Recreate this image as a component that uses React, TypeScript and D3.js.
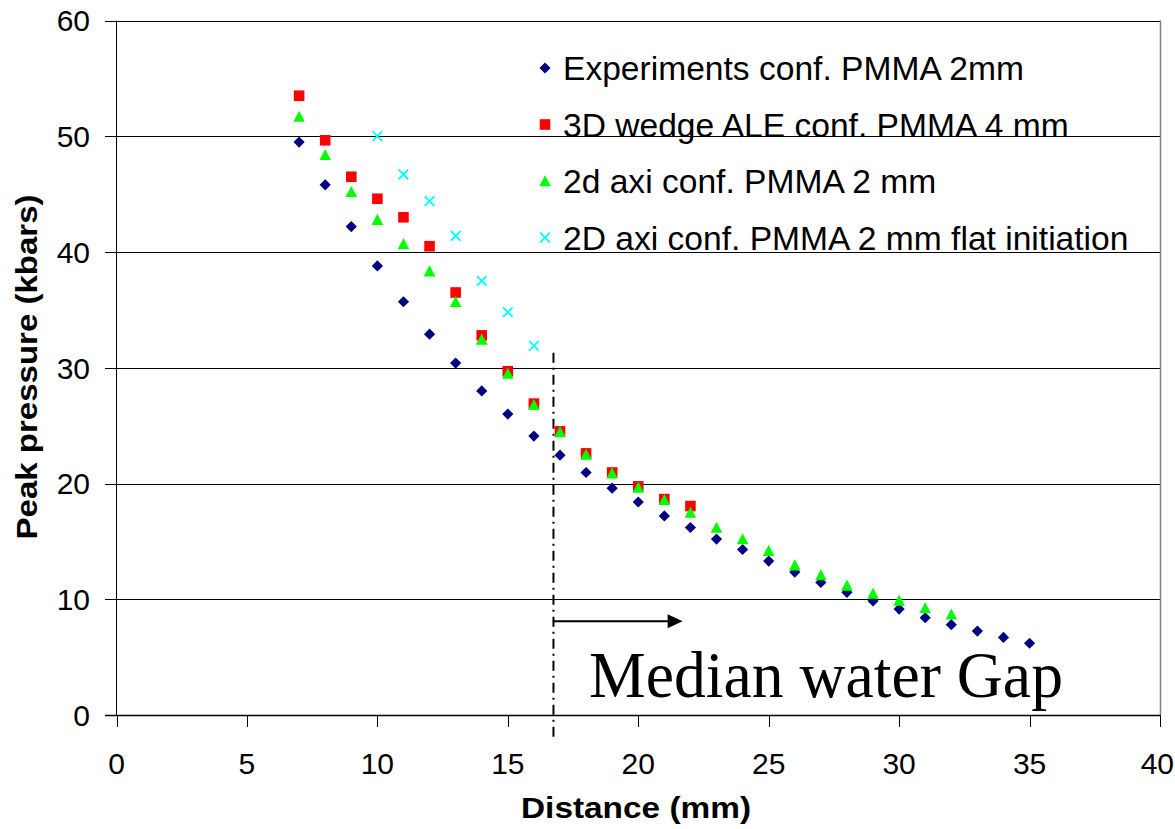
import React from "react";
import * as d3 from "d3";

const distance = [7,8,9,10,11,12,13,14,15,16,17,18,19,20,21,22,23,24,25,26,27,28,29,30,31,32,33,34,35];
const experiments = [49.5,45.8,42.2,38.8,35.7,32.9,30.4,28.0,26.0,24.1,22.45,20.95,19.6,18.4,17.2,16.2,15.2,14.3,13.3,12.35,11.45,10.6,9.85,9.15,8.4,7.8,7.25,6.7,6.2];
const wedgeX = [7,8,9,10,11,12,13,14,15,16,17,18,19,20,21,22];
const wedge3D = [53.5,49.65,46.5,44.6,43.0,40.5,36.5,32.8,29.7,26.9,24.5,22.6,20.95,19.75,18.65,18.05];
const axiX = [7,8,9,10,11,12,13,14,15,16,17,18,19,20,21,22,23,24,25,26,27,28,29,30,31,32];
const axi2d = [51.7,48.4,45.2,42.8,40.7,38.35,35.7,32.45,29.5,26.8,24.45,22.5,20.9,19.65,18.6,17.5,16.2,15.2,14.2,12.95,12.1,11.2,10.5,9.9,9.25,8.7];
const flatX = [10,11,12,13,14,15,16];
const flat2D = [50.0,46.7,44.4,41.4,37.5,34.8,31.9];

const xTicks = [0,5,10,15,20,25,30,35,40];
const yTicks = [0,10,20,30,40,50,60];
const legendLabels = [
  "Experiments conf. PMMA 2mm",
  "3D wedge ALE conf. PMMA 4 mm",
  "2d axi conf. PMMA 2 mm",
  "2D axi conf. PMMA 2 mm flat initiation",
];
const gapLine = { x: 16.75, yTop: 31.3, yBottom: -2.1 };
const gapArrow = { x0: 16.75, x1: 21.7, y: 8.1 };
const gapLabel = "Median water Gap";

const W = 1175, H = 829;
const x = d3.scaleLinear().domain([0, 40]).range([116.5, 1160]);
const y = d3.scaleLinear().domain([0, 60]).range([715, 20.5]);

type Shape = "diamond" | "square" | "triangle" | "cross";
const markerPath = (shape: Shape, cx: number, cy: number): string => {
  const p = d3.path();
  if (shape === "diamond") {
    const r = 5.6;
    p.moveTo(cx, cy - r); p.lineTo(cx + r, cy); p.lineTo(cx, cy + r); p.lineTo(cx - r, cy); p.closePath();
  } else if (shape === "square") {
    const r = 5.3;
    p.rect(cx - r, cy - r, 2 * r, 2 * r);
  } else if (shape === "triangle") {
    const r = 5.8;
    p.moveTo(cx, cy - r); p.lineTo(cx + r, cy + r - 0.5); p.lineTo(cx - r, cy + r - 0.5); p.closePath();
  } else {
    const r = 4.8;
    p.moveTo(cx - r, cy - r); p.lineTo(cx + r, cy + r);
    p.moveTo(cx - r, cy + r); p.lineTo(cx + r, cy - r);
  }
  return p.toString();
};

const series: { xs: number[]; ys: number[]; shape: Shape; color: string }[] = [
  { xs: distance, ys: experiments, shape: "diamond", color: "#000080" },
  { xs: wedgeX, ys: wedge3D, shape: "square", color: "#FF0000" },
  { xs: axiX, ys: axi2d, shape: "triangle", color: "#00FF00" },
  { xs: flatX, ys: flat2D, shape: "cross", color: "#00FFFF" },
];

const Marker = ({ shape, color, cx, cy }: { shape: Shape; color: string; cx: number; cy: number }) =>
  shape === "cross" ? (
    <path d={markerPath(shape, cx, cy)} stroke={color} strokeWidth={1.8} fill="none" />
  ) : (
    <path d={markerPath(shape, cx, cy)} fill={color} />
  );

export default function App() {
  const sans = "Arial, 'Liberation Sans', sans-serif";
  return (
    <svg width={W} height={H} style={{ position: "absolute", left: 0, top: 0, background: "#fff" }} fontFamily={sans}>
      <rect width={W} height={H} fill="#fff" />
      {/* gridlines */}
      {yTicks.filter((t) => t > 0).map((t) => (
        <line key={t} x1={x(0)} x2={x(40)} y1={Math.round(y(t)) + 0.5} y2={Math.round(y(t)) + 0.5} stroke="#000" strokeWidth={1} />
      ))}
      {/* right border */}
      <line x1={1160.5} x2={1160.5} y1={y(60)} y2={y(0)} stroke="#808080" strokeWidth={1.5} />
      {/* axes */}
      <line x1={116.5} x2={116.5} y1={y(60)} y2={y(0)} stroke="#000" strokeWidth={1} />
      <line x1={105} x2={1160} y1={715.5} y2={715.5} stroke="#000" strokeWidth={1.3} />
      {yTicks.map((t) => (
        <g key={t}>
          <line x1={105} x2={116.5} y1={Math.round(y(t)) + 0.5} y2={Math.round(y(t)) + 0.5} stroke="#000" />
          <text x={90} y={y(t)} dy="0.36em" textAnchor="end" fontSize={30}>{t}</text>
        </g>
      ))}
      {xTicks.map((t, i) => {
        const last = i === xTicks.length - 1;
        return (
          <g key={t}>
            <line x1={Math.round(x(t)) + 0.5} x2={Math.round(x(t)) + 0.5} y1={715} y2={727} stroke="#000" />
            <text x={last ? W - 1 : x(t)} y={774} textAnchor={last ? "end" : "middle"} fontSize={30}>{t}</text>
          </g>
        );
      })}
      {/* axis titles */}
      <text x={636} y={818} textAnchor="middle" fontSize={30} fontWeight="bold" textLength={230} lengthAdjust="spacingAndGlyphs">Distance (mm)</text>
      <text transform={`translate(37,367) rotate(-90)`} textAnchor="middle" fontSize={30} fontWeight="bold" textLength={345} lengthAdjust="spacingAndGlyphs">Peak pressure (kbars)</text>
      {/* median gap annotation */}
      <line x1={x(gapLine.x)} x2={x(gapLine.x)} y1={y(gapLine.yTop)} y2={y(gapLine.yBottom)} stroke="#000" strokeWidth={2} strokeDasharray="10,5,2,5" />
      <line x1={x(gapArrow.x0)} x2={x(gapArrow.x1) - 14} y1={y(gapArrow.y)} y2={y(gapArrow.y)} stroke="#000" strokeWidth={2.2} />
      <path d={`M${x(gapArrow.x1)},${y(gapArrow.y)} L${x(gapArrow.x1) - 15},${y(gapArrow.y) - 7} L${x(gapArrow.x1) - 15},${y(gapArrow.y) + 7} Z`} fill="#000" />
      <text x={589} y={697} fontFamily="'Liberation Serif', 'Times New Roman', serif" fontSize={66} textLength={474} lengthAdjust="spacingAndGlyphs">{gapLabel}</text>
      {/* data */}
      {series.map((s, i) => (
        <g key={i}>
          {s.xs.map((xv, j) => (
            <Marker key={j} shape={s.shape} color={s.color} cx={x(xv)} cy={y(s.ys[j])} />
          ))}
        </g>
      ))}
      {/* legend */}
      {series.map((s, i) => {
        const cy = 68 + i * 56.5;
        return (
          <g key={i}>
            <Marker shape={s.shape} color={s.color} cx={545} cy={cy} />
            <text x={563} y={cy} dy="0.36em" fontSize={33.6}>{legendLabels[i]}</text>
          </g>
        );
      })}
    </svg>
  );
}
